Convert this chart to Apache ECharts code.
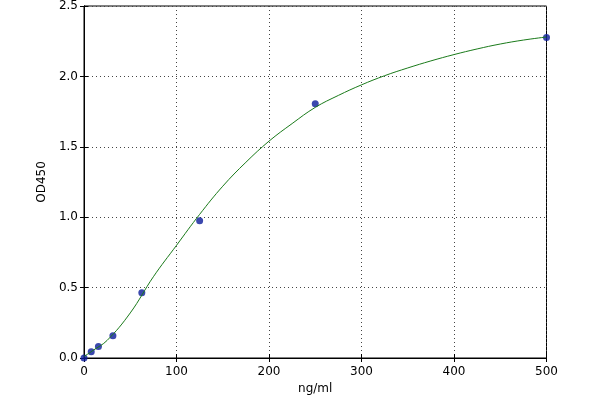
<!DOCTYPE html>
<html><head><meta charset="utf-8">
<script src="https://cdn.jsdelivr.net/npm/echarts@6/dist/echarts.min.js"></script>
<style>html,body{margin:0;padding:0;background:#fff}#c{width:600px;height:400px}</style>
</head><body><div id="c"></div>
<script>
const concentrations = [0, 7.8, 15.6, 31.25, 62.5, 125, 250, 500];
const odValues = [0.0, 0.044, 0.082, 0.158, 0.463, 0.975, 1.806, 2.276];
const curveX = [0, 10, 25, 50, 75, 100, 125, 150, 175, 200, 225, 250, 275, 300, 325, 350, 375, 400, 425, 450, 475, 500];
const curveY = [0.01, 0.055, 0.125, 0.32, 0.577, 0.80, 1.02, 1.22, 1.39, 1.54, 1.665, 1.78, 1.865, 1.94, 2.005, 2.06, 2.11, 2.155, 2.195, 2.23, 2.258, 2.28];
const xTicks = [0, 100, 200, 300, 400, 500];
const yTicks = [0, 0.5, 1.0, 1.5, 2.0, 2.5];

const font = 'DejaVu Sans';
const chart = echarts.init(document.getElementById('c'));
const gridLine = {show: true, lineStyle: {color: '#444', type: [1, 3], width: 1}};
chart.setOption({
  animation: false,
  grid: {left: 84, right: 53.5, top: 5.6, bottom: 35.4, show: true, borderColor: '#000', borderWidth: 1, backgroundColor: 'transparent'},
  xAxis: [{
    type: 'value', min: xTicks[0], max: xTicks[xTicks.length - 1], interval: xTicks[1] - xTicks[0],
    name: 'ng/ml', nameLocation: 'middle', nameGap: 25,
    nameTextStyle: {fontFamily: font, fontSize: 12, color: '#000'},
    axisLine: {show: true, lineStyle: {color: '#000'}},
    axisTick: {show: true, inside: true, length: 4, lineStyle: {color: '#000'}},
    axisLabel: {fontFamily: font, fontSize: 12, color: '#000', margin: 8},
    splitLine: gridLine
  }, {
    type: 'value', min: xTicks[0], max: xTicks[xTicks.length - 1], interval: xTicks[1] - xTicks[0], position: 'top',
    axisLine: {show: true, lineStyle: {color: '#000'}},
    axisTick: {show: true, inside: true, length: 4, lineStyle: {color: '#000'}},
    axisLabel: {show: false}, splitLine: {show: false}
  }],
  yAxis: [{
    type: 'value', min: yTicks[0], max: yTicks[yTicks.length - 1], interval: yTicks[1] - yTicks[0],
    name: 'OD450', nameLocation: 'middle', nameGap: 29, nameRotate: 90,
    nameTextStyle: {fontFamily: font, fontSize: 12, color: '#000'},
    axisLine: {show: true, lineStyle: {color: '#000'}},
    axisTick: {show: true, inside: true, length: 4, lineStyle: {color: '#000'}},
    axisLabel: {fontFamily: font, fontSize: 12, color: '#000', margin: 6, formatter: v => v.toFixed(1)},
    splitLine: gridLine
  }, {
    type: 'value', min: yTicks[0], max: yTicks[yTicks.length - 1], interval: yTicks[1] - yTicks[0], position: 'right',
    axisLine: {show: true, lineStyle: {color: '#000'}},
    axisTick: {show: true, inside: true, length: 4, lineStyle: {color: '#000'}},
    axisLabel: {show: false}, splitLine: {show: false}
  }],
  series: [{
    type: 'line', smooth: 0.4, symbol: 'none', clip: true,
    data: curveX.map((x, i) => [x, curveY[i]]),
    lineStyle: {color: '#1a7a1a', width: 1}
  }, {
    type: 'scatter', clip: true, symbolSize: 7,
    data: concentrations.map((x, i) => [x, odValues[i]]),
    itemStyle: {color: '#0a1a9a'}
  }]
});
</script></body></html>
